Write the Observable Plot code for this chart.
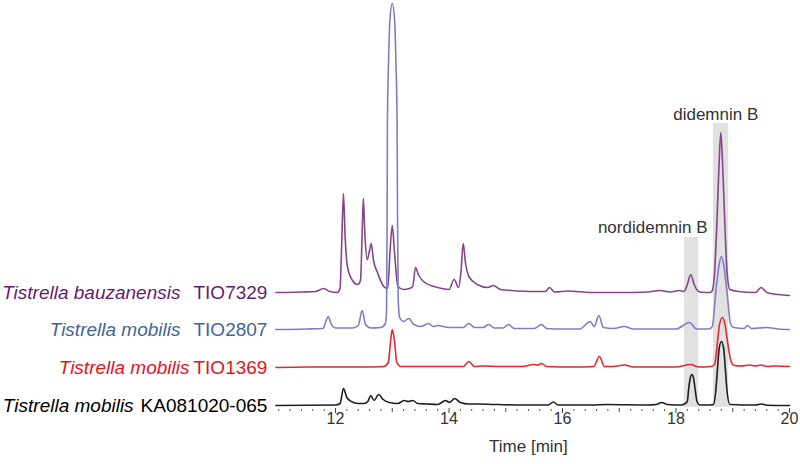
<!DOCTYPE html>
<html>
<head>
<meta charset="utf-8">
<script src="https://cdn.jsdelivr.net/npm/d3@7"></script>
<script src="https://cdn.jsdelivr.net/npm/@observablehq/plot@0.6"></script>
<style>
  html, body { margin: 0; padding: 0; background: #fff; }
  #chart svg { display: block; }
</style>
</head>
<body>
<div id="chart"></div>
<script>
// ---- Data (retention time [min], detector signal above each trace's baseline) ----
const traceTIO7329 = [[10.95,0],[11.4,0.5],[11.65,1],[11.79,4],[11.9,1],[12.03,0],[12.08,4],[12.11,50],[12.14,99],[12.17,55],[12.21,26],[12.3,12],[12.39,8],[12.44,12],[12.47,60],[12.49,94],[12.52,55],[12.56,33],[12.6,42],[12.63,49],[12.67,32],[12.74,20],[12.85,6],[12.92,4],[12.96,40],[13.0,67],[13.04,40],[13.1,6],[13.2,3],[13.3,4],[13.36,6],[13.41,25],[13.46,18],[13.55,11],[13.8,5],[14.0,3],[14.09,13],[14.17,5],[14.21,20],[14.25,49],[14.29,30],[14.35,16],[14.5,8],[14.68,5],[14.78,7],[14.91,3],[15.1,2],[15.5,1],[15.7,1],[15.77,5],[15.86,0.5],[16.1,1.5],[16.5,0],[17.0,0],[17.5,0.5],[17.71,2],[17.9,0.5],[18.06,2],[18.14,1],[18.2,8],[18.26,18],[18.32,8],[18.4,1],[18.5,0],[18.6,0],[18.64,2],[18.68,20],[18.72,69],[18.76,130],[18.79,160],[18.82,130],[18.86,69],[18.9,20],[18.95,3],[19.1,1],[19.4,0],[19.5,5],[19.6,0],[19.8,-2],[20,-3]];
const traceTIO2807 = [[10.95,0],[11.5,0.5],[11.78,1],[11.83,8],[11.87,13],[11.92,6],[12.0,1.5],[12.3,1.5],[12.4,4],[12.47,19],[12.53,5],[12.62,1.5],[12.8,2],[12.88,6],[12.9,20],[12.91,120],[12.915,209],[12.936,270],[12.958,309],[13.0,326],[13.042,309],[13.064,270],[13.085,209],[13.092,120],[13.105,30],[13.13,12],[13.2,8],[13.29,11],[13.38,5],[13.5,3],[13.64,6],[13.72,3],[13.8,4],[14.0,2],[14.25,2],[14.35,6],[14.45,2],[14.6,2],[14.7,5],[14.8,1.5],[14.95,1.5],[15.05,5],[15.15,1],[15.5,1],[15.63,5],[15.72,1],[16.0,0.5],[16.3,0.5],[16.49,8],[16.56,3],[16.64,14],[16.72,2],[16.9,1],[17.09,3],[17.25,0.5],[18.0,0.5],[18.24,7],[18.36,0.5],[18.58,0.5],[18.64,3],[18.7,37],[18.76,65],[18.8,73],[18.84,65],[18.9,37],[18.96,6],[19.02,2],[19.2,1],[19.26,4],[19.33,1],[19.6,2],[19.8,0.5],[20,0]];
const traceTIO1369 = [[10.95,0],[11.5,0.5],[12.0,0.5],[12.5,0.5],[12.85,1],[12.93,5],[12.97,26],[13.0,38],[13.04,26],[13.08,5],[13.15,1],[13.5,1],[14.0,1],[14.25,1],[14.35,6],[14.45,1],[14.6,1.5],[14.9,1],[15.3,1],[15.49,3],[15.57,2.5],[15.63,4],[15.72,1],[16.2,0.5],[16.55,1],[16.65,11],[16.74,1],[16.9,1],[17.09,2.5],[17.25,0.5],[18.0,0.5],[18.26,3],[18.4,0.5],[18.62,1],[18.68,3],[18.73,25],[18.77,44],[18.82,50],[18.86,44],[18.91,25],[18.97,6],[19.03,2],[19.15,1.5],[19.3,2.5],[19.4,1.5],[19.5,2.5],[19.6,1],[19.75,1.5],[20,1]];
const traceKA081020 = [[10.95,0],[11.5,0.3],[12.0,0.5],[12.08,2],[12.14,17],[12.2,8],[12.28,4],[12.4,2],[12.5,2],[12.57,4],[12.62,10],[12.68,5],[12.76,11],[12.84,6],[12.95,3],[13.1,2],[13.21,5],[13.28,4],[13.36,5],[13.45,2],[13.6,1.5],[13.8,1],[13.94,5],[14.01,3],[14.1,7],[14.2,3],[14.35,1.5],[14.5,1.5],[14.8,1],[15.3,0.5],[15.75,0.5],[15.84,3.5],[15.92,0.5],[16.5,0.5],[16.8,1],[17.5,0.5],[17.65,1],[17.75,3],[17.85,1],[18.1,0.5],[18.2,4],[18.22,15],[18.25,27],[18.28,31],[18.31,27],[18.34,15],[18.37,4],[18.42,0.5],[18.6,0.5],[18.66,1],[18.7,14],[18.73,36],[18.76,57],[18.8,64],[18.84,57],[18.87,36],[18.9,14],[18.95,1],[19.4,0.5],[19.5,1.5],[19.6,0.3],[20,0]];

const species   = ["Tistrella bauzanensis", "Tistrella mobilis", "Tistrella mobilis", "Tistrella mobilis"];
const strains   = ["TIO7329", "TIO2807", "TIO1369", "KA081020-065"];
const traces    = [traceTIO7329, traceTIO2807, traceTIO1369, traceKA081020];
const baselines = [114, 77, 39, 1];          // vertical offset of each trace
const traceColors = ["#87448c", "#7d7fc6", "#e8262b", "#1e1e1e"];
const labelColors = ["#651d6b", "#3f6597", "#e5131b", "#000000"];
const labelGaps   = [13, 13, 4, 7];

const peakNames  = ["nordidemnin B", "didemnin B"];
const bandStart  = [18.15, 18.66];
const bandEnd    = [18.40, 18.93];
const bandTop    = [169, 283];
const peakLabelX = [17.59, 18.70];
const peakLabelY = [179, 292];

const majorTicks = [12, 14, 16, 18, 20];
const oddTicks   = [13, 15, 17, 19];
const minorTicks = d3.range(11, 20.001, 0.2).map(v => +v.toFixed(1))
  .filter(v => !(Math.abs(v - Math.round(v)) < 1e-6 && v >= 12));

// ---- Build tables ----
const lineRows = [];
traces.forEach((tr, i) => tr.forEach(([t, v]) => lineRows.push({strain: strains[i], t, y: v + baselines[i]})));
const labelRows = strains.map((s, i) => ({species: species[i], strain: s, y: baselines[i], color: labelColors[i]}));
const bandRows = peakNames.map((n, i) => ({name: n, x1: bandStart[i], x2: bandEnd[i], top: bandTop[i], lx: peakLabelX[i], ly: peakLabelY[i]}));

const chart = Plot.plot({
  width: 800,
  height: 464,
  marginLeft: 266.9,
  marginRight: 11,
  marginTop: 0,
  marginBottom: 58,
  x: {domain: [10.8, 20]},
  y: {domain: [0, 406], axis: null},
  color: {domain: strains, range: traceColors},
  style: {fontFamily: "'Liberation Sans', Arial, sans-serif", background: "#fff", overflow: "visible"},
  marks: [
    Plot.rectY(bandRows, {x1: "x1", x2: "x2", y1: 0, y2: "top", fill: "#e1e1e1", insetBottom: -1}),
    Plot.line(lineRows, {x: "t", y: "y", z: "strain", stroke: "strain", strokeWidth: 1.6, curve: "monotone-x"}),
    Plot.text(bandRows, {x: "lx", y: "ly", text: "name", fontSize: 17, fill: "#333"}),
    Plot.text(labelRows, {frameAnchor: "left", y: "y", text: d => d.species + " " + d.strain, fill: "color",
      textAnchor: "end", fontSize: 19}),
    Plot.axisX({ticks: majorTicks, tickSize: 0, tickPadding: 6, fontSize: 16, fill: "#333", label: null}),
    Plot.axisX({ticks: majorTicks, tickSize: 5, tickFormat: () => "", dy: 2, stroke: "#444", label: null}),
    Plot.axisX({ticks: oddTicks, tickSize: 4, tickFormat: () => "", dy: 2, stroke: "#444", label: null}),
    Plot.axisX({ticks: minorTicks, tickSize: 2, tickFormat: () => "", dy: 3, stroke: "#555", label: null}),
    Plot.text(["Time [min]"], {frameAnchor: "bottom", dy: 45, fontSize: 17, fill: "#333"})
  ]
});

// split strain labels into italic species + upright strain code
labelRows.forEach((row, i) => {
  const full = row.species + " " + row.strain;
  chart.querySelectorAll("text").forEach(el => {
    if (el.textContent === full && !el.dataset.done) {
      el.dataset.done = "1";
      while (el.firstChild) el.removeChild(el.firstChild);
      const a = document.createElementNS("http://www.w3.org/2000/svg", "tspan");
      a.setAttribute("font-style", "italic");
      a.textContent = row.species;
      const b = document.createElementNS("http://www.w3.org/2000/svg", "tspan");
      b.setAttribute("dx", labelGaps[i]);
      b.textContent = row.strain;
      el.appendChild(a);
      el.appendChild(b);
    }
  });
});
document.getElementById("chart").appendChild(chart);
</script>
</body>
</html>
